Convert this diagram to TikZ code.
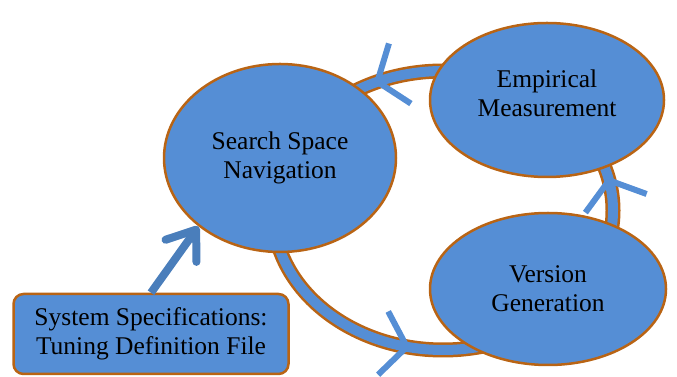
\documentclass[tikz,border=0pt]{standalone}
\usepackage{fontspec}
\setmainfont{Liberation Serif}
\usetikzlibrary{arrows.meta, shapes.geometric}

\definecolor{stageblue}{RGB}{85,142,213}
\definecolor{stageedge}{RGB}{185,100,20}
\definecolor{feedblue}{RGB}{74,126,187}

\begin{document}
\begin{tikzpicture}[x=1pt, y=1pt,
    stage/.style={ellipse, draw=stageedge, line width=2.5pt, fill=stageblue,
      inner sep=0pt, align=center, font=\fontsize{25.5}{29}\selectfont},
    specbox/.style={rectangle, rounded corners=10pt, draw=stageedge, line width=2.5pt,
      fill=stageblue, align=center, minimum width=275pt, minimum height=80pt,
      font=\fontsize{25.5}{29}\selectfont},
    ringline/.style={draw=stageedge, line width=2.5pt, double=stageblue, double distance=10pt},
    chevron/.style={stageblue, line width=6pt, -{Straight Barb[length=24pt, width=64pt]}},
    feed/.style={feedblue, line width=8pt, -{Straight Barb[length=26pt, width=38pt, round]}}]

    \useasboundingbox (0,0) rectangle (677,377);

    % Cycle ring behind the stages
    \coordinate (loop) at (443,166.5);
    \draw[ringline] (loop) ellipse[x radius=170, y radius=139.5];

    % Stages
    \node[stage, minimum width=232pt, minimum height=188pt] (search) at (280,219) {Search Space\\Navigation};
    \node[stage, minimum width=234pt, minimum height=154pt, text depth=14pt] (measure) at (547,277) {Empirical\\Measurement};
    \node[stage, minimum width=236pt, minimum height=152pt] (version) at (548,88) {Version\\Generation};

    % Input box
    \node[specbox] (spec) at (151,43) {System Specifications:\\Tuning Definition File};

    % Input arrow
    \draw[feed] (spec.north) -- (search.220);

    % Flow chevrons on the ring
    \foreach \a/\b in {247/259, 2/14, 102/114}
        \draw[chevron, shift={(loop)}] (\a:170 and 139.5)
            arc[start angle=\a, end angle=\b, x radius=170, y radius=139.5];
\end{tikzpicture}
\end{document}
